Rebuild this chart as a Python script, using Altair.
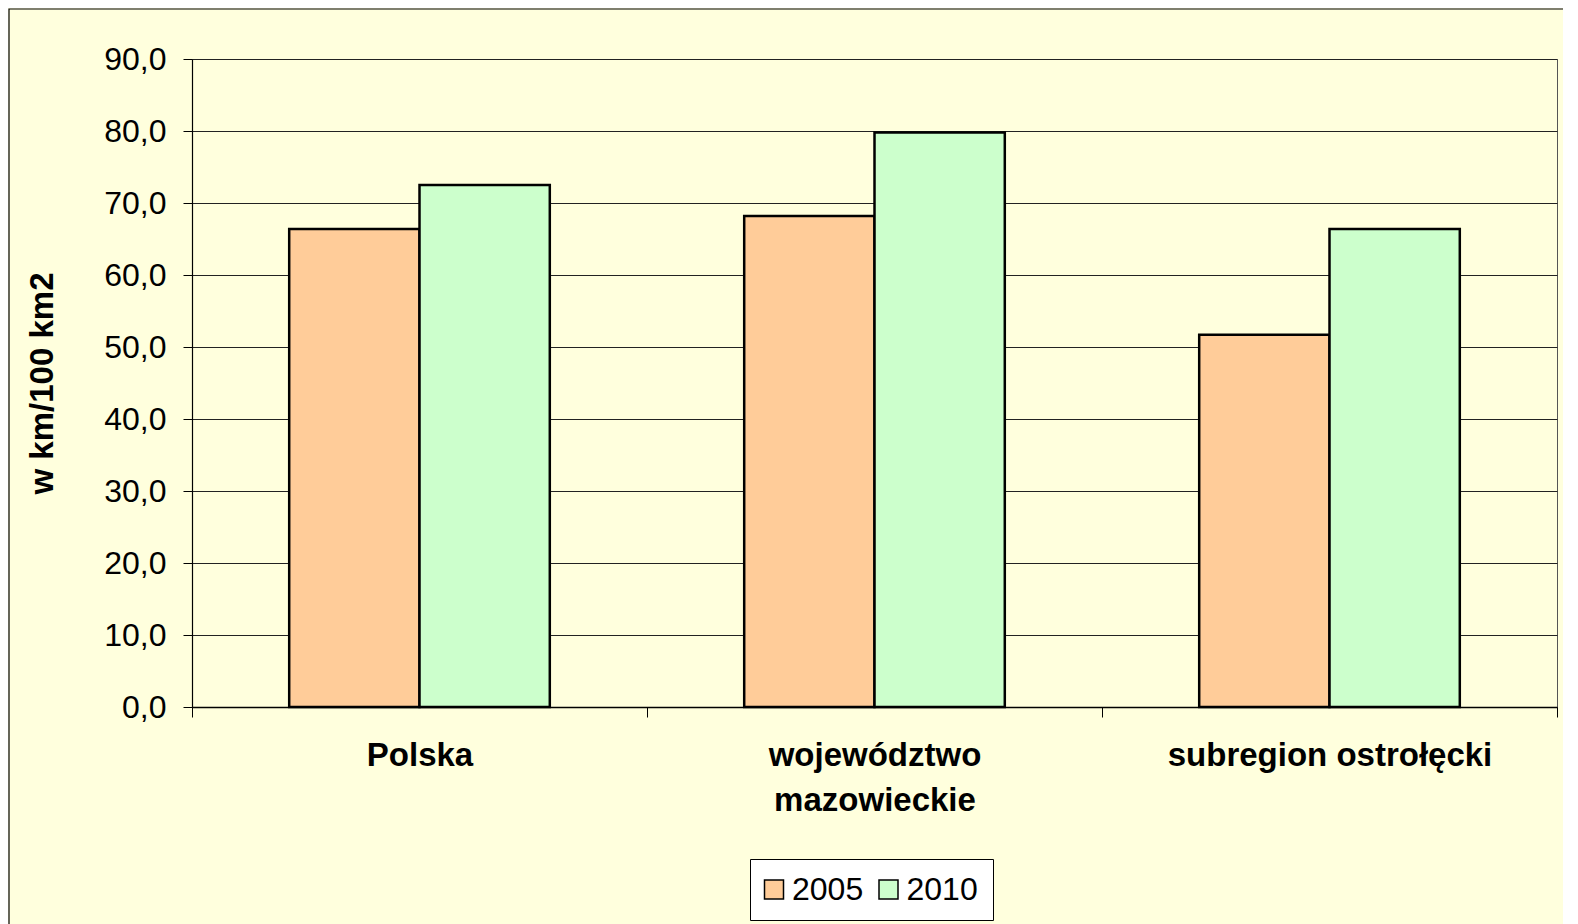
import altair as alt
import pandas as pd

categories = ["Polska", "województwo mazowieckie", "subregion ostrołęcki"]
years = ["2005", "2010"]
values_2005 = [66.4, 68.2, 51.7]
values_2010 = [72.5, 79.8, 66.4]
y_ticks = [0, 10, 20, 30, 40, 50, 60, 70, 80, 90]
colors = ["#FFCC99", "#CCFFCC"]

rows = []
for c, a, b in zip(categories, values_2005, values_2010):
    rows.append({"region": c, "rok": years[0], "value": a})
    rows.append({"region": c, "rok": years[1], "value": b})
df = pd.DataFrame(rows)

W, H = 1365, 648
FONT = "Liberation Sans"

bars = alt.Chart(df).mark_bar(stroke="black", strokeWidth=2.5).encode(
    x=alt.X(
        "region:N",
        sort=categories,
        scale=alt.Scale(paddingInner=0, paddingOuter=0),
        axis=alt.Axis(
            title=None, labelAngle=0, labelFont=FONT, labelFontSize=33,
            labelFontWeight="bold", labelColor="black", labelPadding=22,
            labelLineHeight=45, labelBaseline="top", labelLimit=0,
            labelOverlap=False, tickBand="extent", tickSize=10,
            tickColor="black", tickWidth=1, domainColor="black", domainWidth=1.5,
            grid=False,
            labelExpr="datum.label == 'województwo mazowieckie' ? ['województwo', 'mazowieckie'] : datum.label",
        ),
    ),
    xOffset=alt.XOffset("rok:N", sort=years,
                        scale=alt.Scale(paddingInner=0, paddingOuter=0.746)),
    y=alt.Y(
        "value:Q",
        scale=alt.Scale(domain=[0, 90], nice=False),
        axis=alt.Axis(
            values=y_ticks, title="w km/100 km2", labelFont=FONT,
            labelFontSize=32, labelColor="black", tickSize=9, labelPadding=17,
            tickColor="black", domainColor="black", domainWidth=1.2,
            gridColor="#222222", gridWidth=1,
            labelExpr="replace(format(datum.value, '.1f'), '.', ',')",
            titleFont=FONT, titleFontSize=33, titleFontWeight="bold",
            titleColor="black", titleAngle=-90, titleX=-150, titleY=H / 2,
            titleBaseline="middle", titleAlign="center",
        ),
    ),
    color=alt.Color(
        "rok:N",
        scale=alt.Scale(domain=years, range=colors),
        legend=alt.Legend(
            title=None, orient="none", legendX=558, legendY=800,
            direction="horizontal", fillColor="white", strokeColor="black",
            padding=14.5, labelFont=FONT, labelFontSize=32, labelColor="black",
            symbolType="square", symbolSize=361, symbolStrokeColor="black",
            symbolStrokeWidth=1.5, symbolOpacity=1, symbolOffset=-6.5,
            labelOffset=2, columnPadding=12.5, cornerRadius=0,
        ),
    ),
)

frame = alt.Chart(alt.Data(values=[{}])).mark_rect(
    filled=False, stroke="black", strokeWidth=1.2
).encode(
    x=alt.value(-183), x2=alt.value(1400), y=alt.value(-50), y2=alt.value(900)
)

chart = alt.layer(frame, bars).properties(
    width=W, height=H,
    autosize=alt.AutoSizeParams(type="none"),
    padding={"left": 184, "top": 51, "right": 6, "bottom": 217},
    background="#FFFFDD",
).configure_view(stroke="#555555", strokeWidth=1)

chart.save("out.html", embed_options={"renderer": "svg", "actions": False})
